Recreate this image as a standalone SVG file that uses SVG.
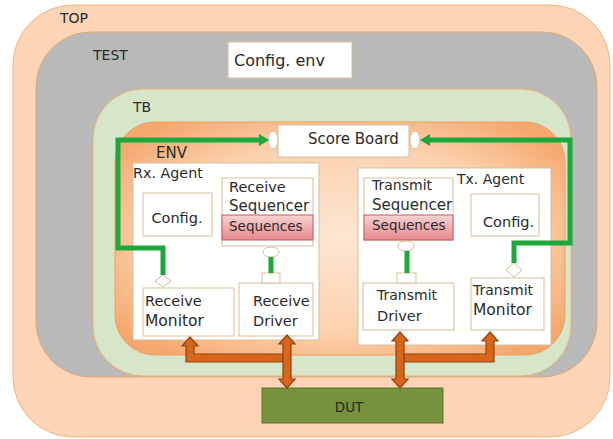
<svg xmlns="http://www.w3.org/2000/svg" width="613" height="439" viewBox="0 0 613 439">
<style>
text{font-family:"DejaVu Sans","Liberation Sans",sans-serif;font-size:14.5px;fill:#2a2a2a}
.box{fill:#fff;stroke:#d6bd9c;stroke-width:1}
.g{fill:none;stroke:#1ea83c;stroke-width:5;stroke-linejoin:miter}
.ora{fill:#d8661a;stroke:#8f4412;stroke-width:1.2;stroke-linejoin:miter}
.port{fill:#fff;stroke:#d6bd9c;stroke-width:1}
</style>
<defs>
<radialGradient id="envg" cx="50%" cy="50%" r="62%">
<stop offset="0" stop-color="#fde6d3"/>
<stop offset="0.65" stop-color="#fbd2ae"/>
<stop offset="1" stop-color="#f5a86e"/>
</radialGradient>
<linearGradient id="pink" x1="0" y1="0" x2="0" y2="1">
<stop offset="0" stop-color="#fad3d3"/>
<stop offset="1" stop-color="#e5878c"/>
</linearGradient>
<marker id="ga" viewBox="0 0 10 12" refX="0" refY="6" markerWidth="10" markerHeight="12" markerUnits="userSpaceOnUse" orient="auto">
<polygon points="0,0 10,6 0,12" fill="#1ea83c"/>
</marker>
</defs>

<g id="top">
<rect x="13" y="5" width="597" height="432" rx="60" fill="#fbd5b6" stroke="#f1b685" stroke-width="1"/>
<text x="60" y="23" style="font-size:14px">TOP</text>
</g>
<g id="test">
<rect x="36" y="32" width="561" height="345" rx="55" fill="#b9b9b9" stroke="#e2a875" stroke-width="1"/>
<text x="93" y="60" style="font-size:14px">TEST</text>
</g>
<g id="config-env">
<rect class="box" x="228" y="42" width="124" height="36"/>
<text x="234" y="66" style="font-size:16px">Config. env</text>
</g>
<g id="tb">
<rect x="93" y="89" width="478" height="287" rx="50" fill="#d7e6c8" stroke="#e8b27e" stroke-width="1"/>
<text x="133" y="112" style="font-size:14px">TB</text>
</g>
<g id="env">
<rect x="115" y="122" width="450" height="233" rx="40" fill="url(#envg)" stroke="#f0a060" stroke-width="1"/>
<text x="156" y="158" style="font-size:15px">ENV</text>
</g>
<g id="scoreboard">
<rect class="box" x="278" y="125" width="131" height="32"/>
<text x="308" y="144" style="font-size:15px">Score Board</text>
<ellipse class="port" cx="273" cy="140" rx="5" ry="9"/>
<ellipse class="port" cx="415" cy="140" rx="5" ry="9"/>
</g>
<g id="rx-agent">
<rect class="box" x="133" y="163" width="186" height="177"/>
<text x="133" y="178" style="font-size:14.3px">Rx. Agent</text>
</g>
<g id="rx-config">
<rect class="box" x="143" y="193" width="69" height="43"/>
<text x="177" y="223" text-anchor="middle">Config.</text>
</g>
<g id="rx-sequencer">
<rect class="box" x="222" y="178" width="91" height="68"/>
<text x="229" y="192">Receive</text>
<text x="229" y="211" style="font-size:15px">Sequencer</text>
<rect x="222" y="215" width="91" height="25" fill="url(#pink)" stroke="#c65a5a" stroke-width="1"/>
<text x="229" y="231" style="font-size:13.5px">Sequences</text>
<ellipse class="port" cx="271" cy="252" rx="8" ry="5"/>
</g>
<g id="rx-monitor">
<rect class="box" x="143" y="288" width="91" height="48"/>
<text x="145" y="306">Receive</text>
<text x="145" y="326" style="font-size:15.5px">Monitor</text>
<polygon class="port" points="163,275 171,281 163,287 155,281"/>
</g>
<g id="rx-driver">
<rect class="box" x="239" y="283" width="74" height="53"/>
<text x="253" y="306">Receive</text>
<text x="253" y="326">Driver</text>
<rect class="port" x="262" y="273" width="18" height="10"/>
</g>
<g id="tx-agent">
<rect class="box" x="358" y="168" width="193" height="177"/>
<text x="457" y="184" style="font-size:14px">Tx. Agent</text>
</g>
<g id="tx-config">
<rect class="box" x="471" y="194" width="68" height="42"/>
<text x="483" y="227">Config.</text>
</g>
<g id="tx-sequencer">
<rect class="box" x="364" y="178" width="89" height="62"/>
<text x="372" y="190" style="font-size:14px">Transmit</text>
<text x="372" y="210" style="font-size:15px">Sequencer</text>
<rect x="364" y="215" width="89" height="25" fill="url(#pink)" stroke="#c65a5a" stroke-width="1"/>
<text x="372" y="230" style="font-size:13.5px">Sequences</text>
<ellipse class="port" cx="406" cy="246" rx="8" ry="5"/>
</g>
<g id="tx-driver">
<rect class="box" x="363" y="283" width="91" height="47"/>
<text x="377" y="300" style="font-size:14px">Transmit</text>
<text x="377" y="321">Driver</text>
<rect class="port" x="397" y="273" width="19" height="10"/>
</g>
<g id="tx-monitor">
<rect class="box" x="471" y="278" width="73" height="52"/>
<text x="473" y="295" style="font-size:14px">Transmit</text>
<text x="473" y="315" style="font-size:15.5px">Monitor</text>
<polygon class="port" points="514,263 522,270 514,277 506,270"/>
</g>
<g id="dut">
<rect x="262" y="388" width="181" height="35" fill="#76923c" stroke="#5b7330" stroke-width="1"/>
<text x="349" y="412" text-anchor="middle" style="font-size:13.5px">DUT</text>
</g>

<g id="connectors">
<path class="g" d="M163 275 V248 H118 V140 H259" marker-end="url(#ga)"/>
<path class="g" d="M514 263 V243 H570 V140 H430" marker-end="url(#ga)"/>
<path class="g" d="M271 257 V273"/>
<path class="g" d="M407 251 V273"/>
<polygon class="ora" points="190,337 198,346 194,346 194,354 283,354 283,362 186,362 186,346 182,346"/>
<polygon class="ora" points="287,335 295,344 291,344 291,379 295,379 287,388 279,379 283,379 283,344 279,344"/>
<polygon class="ora" points="490,332 498,341 494,341 494,362 404,362 404,354 486,354 486,341 482,341"/>
<polygon class="ora" points="400,332 408,341 404,341 404,379 408,379 400,388 392,379 396,379 396,341 392,341"/>
</g>
</svg>
